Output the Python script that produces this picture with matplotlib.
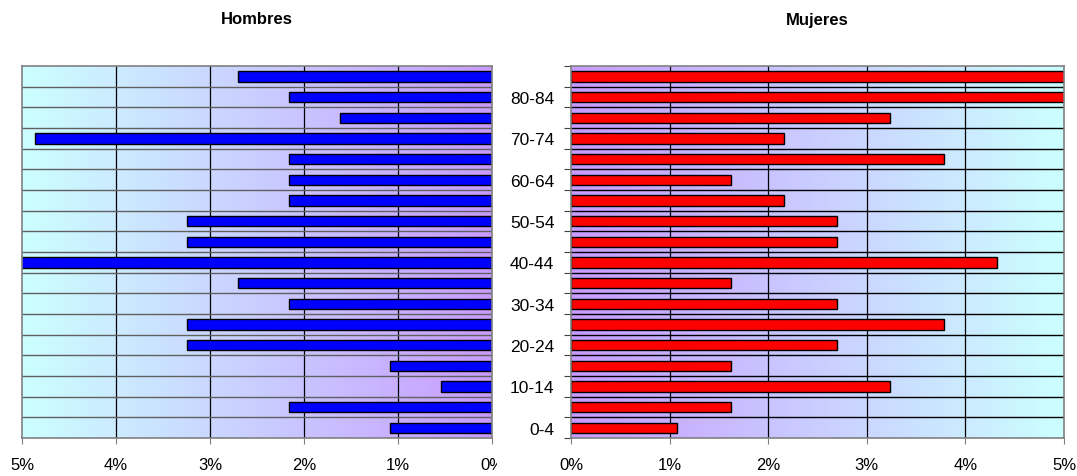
'''Piramide de poblacion: Hombres / Mujeres.'''
import matplotlib
matplotlib.use('Agg')
import matplotlib.pyplot as plt
import numpy as np
from matplotlib.colors import LinearSegmentedColormap
from matplotlib.ticker import FixedLocator, NullFormatter
from matplotlib.transforms import Bbox, TransformedBbox

plt.rcParams['font.family'] = ['Liberation Sans', 'DejaVu Sans']

grupos = ['0-4', '5-9', '10-14', '15-19', '20-24', '25-29', '30-34', '35-39',
          '40-44', '45-49', '50-54', '55-59', '60-64', '65-69', '70-74',
          '75-79', '80-84', '85+']
hombres = [1.08, 2.16, 0.54, 1.08, 3.24, 3.24, 2.16, 2.7, 5.4, 3.24,
           3.24, 2.16, 2.16, 2.16, 4.86, 1.62, 2.16, 2.7]
mujeres = [1.08, 1.62, 3.24, 1.62, 2.7, 3.78, 2.7, 1.62, 4.32, 2.7,
           2.7, 2.16, 1.62, 3.78, 2.16, 3.24, 5.4, 5.4]
ticks_x = [0, 1, 2, 3, 4, 5]
etiquetas_x = ['0%', '1%', '2%', '3%', '4%', '5%']

W, H = 1077, 477
fig = plt.figure(figsize=(W / 100, H / 100), dpi=100)

def caja(x0, x1, y0, y1):
    return [x0 / W, 1 - y1 / H, (x1 - x0) / W, (y1 - y0) / H]

ax_h = fig.add_axes(caja(22, 492, 67, 439))
ax_m = fig.add_axes(caja(571, 1064, 67, 439))

degradado = LinearSegmentedColormap.from_list('deg', ['#c89cff', '#ccffff'])
y = np.arange(len(grupos))

def panel(ax, valores, color, linea_h):
    ax.set_xlim(0, 5)
    ax.set_ylim(-0.5, len(grupos) - 0.5)
    ax.imshow(np.linspace(0, 1, 256).reshape(1, -1), cmap=degradado,
              aspect='auto', extent=[0, 5, -0.5, len(grupos) - 0.5],
              zorder=0, interpolation='bicubic')
    for xv in ticks_x[1:-1]:
        ax.axvline(xv, color='black', lw=0.9, zorder=1)
    for b in np.arange(0.5, len(grupos) - 0.5, 1):
        ax.axhline(b, color=linea_h, lw=1.0, zorder=1)
    ax.barh(y, valores, height=0.5, color=color, edgecolor='black',
            lw=1.0, zorder=2)
    ax.set_xticks(ticks_x)
    ax.set_xticklabels(etiquetas_x, fontsize=12)
    ax.tick_params(axis='x', length=4, pad=10, color='#808080')
    for s in ax.spines.values():
        s.set_color('#808080')
        s.set_linewidth(1.2)

panel(ax_h, hombres, '#0000ff', '#606060')
panel(ax_m, mujeres, '#ff0000', 'black')

ax_h.invert_xaxis()
ax_h.set_yticks([])

# la etiqueta 0% del panel izquierdo sale recortada
recorte = TransformedBbox(Bbox([[0, 0], [497 / W, 1]]), fig.transFigure)
for lab in ax_h.get_xticklabels():
    if lab.get_text() == '0%':
        lab.set_clip_box(recorte)
        lab.set_clip_on(True)

ax_m.yaxis.set_major_locator(FixedLocator(np.arange(-0.5, len(grupos), 1)))
ax_m.yaxis.set_major_formatter(NullFormatter())
ax_m.set_yticks(y[::2], minor=True)
ax_m.set_yticklabels(grupos[::2], minor=True, fontsize=12.5)
ax_m.tick_params(axis='y', which='major', length=5, color='#404040')
ax_m.tick_params(axis='y', which='minor', length=0, pad=12)

fig.text(257 / W, 1 - 20 / H, 'Hombres', ha='center', va='center',
         fontsize=12, fontweight='bold')
fig.text(817 / W, 1 - 20 / H, 'Mujeres', ha='center', va='center',
         fontsize=12, fontweight='bold')

fig.savefig('out.png', dpi=100)
